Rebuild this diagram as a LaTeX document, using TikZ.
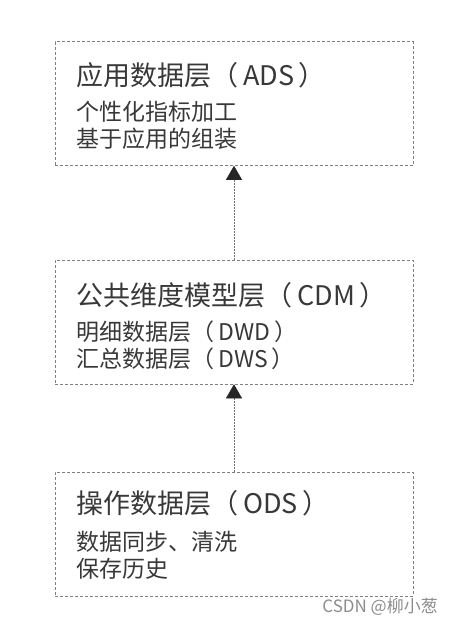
\documentclass[tikz,border=0pt]{standalone}
\usepackage{fontspec}
\setmainfont{Noto Sans CJK SC}
\usetikzlibrary{positioning, arrows.meta}

\begin{document}
\begin{tikzpicture}[x=1pt, y=-1pt, text=black!78]
\tikzstyle{layer}=[%
minimum width=358pt,
minimum height=124pt,
draw=black!50, densely dashed, line width=0.6pt
]
\tikzstyle{title}=[font=\fontsize{27pt}{30pt}\selectfont, inner sep=0pt, anchor=west]
\tikzstyle{detail}=[font=\fontsize{23pt}{27pt}\selectfont, inner sep=0pt, anchor=north west, align=left]
\tikzstyle{up}=[-{Triangle[width=16pt,length=14pt,color=black!85]}, draw=black!55, dash pattern=on 1.5pt off 1.5pt, line width=0.6pt]
   \useasboundingbox (0,0) rectangle (454,624);
   % layers
   \node[layer] (ads) at (234,103.5) {};
   \node[layer] (cdm) at (234,322) {};
   \node[layer] (ods) at (234,534) {};
   % texts
   \node[title] (adsT) at ([shift={(22pt,-34pt)}]ads.north west) {应用数据层（\,ADS\,）};
   \node[detail] (adsD) at ([shift={(22pt,-60pt)}]ads.north west) {个性化指标加工\\基于应用的组装};
   \node[title] (cdmT) at ([shift={(22pt,-36pt)}]cdm.north west) {公共维度模型层（\,CDM\,）};
   \node[detail] (cdmD) at ([shift={(22pt,-61pt)}]cdm.north west) {明细数据层（\,DWD\,）\\汇总数据层（\,DWS\,）};
   \node[title] (odsT) at ([shift={(22pt,-32pt)}]ods.north west) {操作数据层（\,ODS\,）};
   \node[detail] (odsD) at ([shift={(22pt,-59pt)}]ods.north west) {数据同步、清洗\\保存历史};
   % arrows
   \draw[up] (cdm.north) -- (ads.south);
   \draw[up] (ods.north) -- (cdm.south);
   \node[font=\fontsize{17pt}{19pt}\selectfont, text=black!45, inner sep=0pt, anchor=east] (wm) at (438,607) {CSDN @柳小葱};
\end{tikzpicture}
\end{document}
